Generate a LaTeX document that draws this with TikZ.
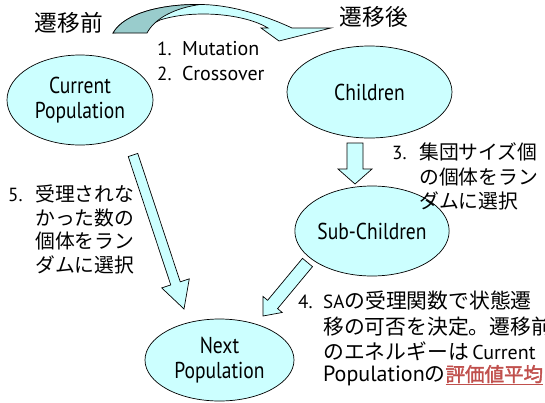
\documentclass[tikz,border=0pt]{standalone}
\usepackage{fontspec}
\setmainfont{Noto Sans CJK JP}
\newfontfamily\latn[FakeStretch=0.85]{PT Sans}
\newfontfamily\latw{PT Sans}
\newfontfamily\jpb[FakeBold=2]{Noto Sans CJK JP}
\usetikzlibrary{shapes.geometric,calc}
\definecolor{cyanfill}{RGB}{204,255,255}
\definecolor{tealdark}{RGB}{153,204,204}
\definecolor{hl}{RGB}{192,80,77}
% block arrow: start, tip, half shaft width, half head width, head length
\newcommand\blockarrow[5]{%
  \coordinate (bxS) at (#1);
  \coordinate (bxT) at (#2);
  \coordinate (bxN) at ($(bxT)!#5!(bxS)$);
  \draw[arrowbody] ($(bxS)!#3!90:(bxT)$) -- ($(bxN)!#3!-90:(bxS)$) -- ($(bxN)!#4!-90:(bxS)$) -- (bxT) -- ($(bxN)!#4!90:(bxS)$) -- ($(bxN)!#3!90:(bxS)$) -- ($(bxS)!#3!-90:(bxT)$) -- cycle;}
\begin{document}
\begin{tikzpicture}[x=1pt,y=-1pt,
  pop/.style={ellipse,draw=black,line width=0.7pt,fill=cyanfill,inner sep=0pt,align=center,
    font=\latn\fontsize{23}{25}\selectfont},
  arrowbody/.style={draw=black,line width=0.7pt,fill=cyanfill,line join=miter},
  head/.style={anchor=base,inner sep=0pt,font=\fontsize{22.7}{24}\selectfont},
  numlbl/.style={anchor=base west,inner sep=0pt,font=\latw\fontsize{19}{21}\selectfont},
  latlbl/.style={anchor=base west,inner sep=0pt,font=\latw\fontsize{20}{22}\selectfont},
  jtext/.style={anchor=base west,inner sep=0pt,font=\fontsize{19.8}{22}\selectfont},
  jtextb/.style={anchor=base west,inner sep=0pt,font=\fontsize{20.8}{22}\selectfont}]
\useasboundingbox (0,0) rectangle (545,402);

% curved transition arrow
\filldraw[arrowbody] (113,33) .. controls (125,12) and (165,4) .. (200,4.5)
  .. controls (228,4.5) and (262,14) .. (292,28) -- (331,28) -- (279,41) -- (261,28) -- (268,28)
  .. controls (245,14) and (195,9) .. (160,20) -- (140,30) -- cycle;
\filldraw[draw=black,line width=0.7pt,fill=tealdark] (113,33) .. controls (125,12) and (165,4) .. (200,4.5)
  .. controls (175,8) and (155,18) .. (147,33) -- cycle;

% block arrows
\coordinate (aS) at (355,143); \coordinate (aT) at (355,184);
\coordinate (bS) at (133,155); \coordinate (bT) at (184,309);
\coordinate (cS) at (307.5,262.5); \coordinate (cT) at (263,316);
\blockarrow{aS}{aT}{8pt}{17pt}{15pt}
\blockarrow{bS}{bT}{5pt}{14.5pt}{27pt}
\blockarrow{cS}{cT}{6.5pt}{12.5pt}{15pt}

% populations
\node[pop,minimum width=146pt,minimum height=90pt] (cur) at (80,100) {Current\\Population};
\node[pop,minimum width=165pt,minimum height=92pt] (chi) at (369.5,92) {Children};
\node[pop,minimum width=150pt,minimum height=90pt] (sub) at (372,231) {Sub-Children};
\node[pop,minimum width=149pt,minimum height=82pt] (nxt) at (219.5,360) {Next\\Population};

% headings
\node[head] (before) at (69,31) {遷移前};
\node[head] (after) at (374,25.5) {遷移後};

% steps 1, 2
\node[numlbl] (n1) at (157,55) {1.};
\node[latlbl] (m1) at (182,55) {Mutation};
\node[numlbl] (n2) at (157,80.5) {2.};
\node[latlbl] (m2) at (182,80.5) {Crossover};

% step 3
\node[numlbl] (n3) at (392,159.6) {3.};
\node[jtext] (t3a) at (419,159.6) {集団サイズ個};
\node[jtext] (t3b) at (419,184.6) {の個体をラン};
\node[jtext] (t3c) at (419,208.6) {ダムに選択};

% step 5
\node[numlbl] (n5) at (8,201.4) {5.};
\node[jtext] (t5a) at (35,201.4) {受理されな};
\node[jtext] (t5b) at (35,225.4) {かった数の};
\node[jtext] (t5c) at (35,248.4) {個体をラン};
\node[jtext] (t5d) at (35,272.4) {ダムに選択};

% step 4
\node[numlbl] (n4) at (298,308) {4.};
\node[jtextb] (t4a) at (323,308) {{\latw\fontsize{19}{21}\selectfont SA}の受理関数で状態遷};
\node[jtextb] (t4b) at (323,334.5) {移の可否を決定。遷移前};
\node[jtextb] (t4c) at (323,359) {のエネルギーは\,{\latw\fontsize{20}{22}\selectfont Current}};
\node[jtextb] (t4d) at (323,381.5) {{\latw\fontsize{22}{24}\selectfont Population}の{\color{hl}\jpb\fontsize{19.5}{21}\selectfont\underline{評価値平均}}};
\end{tikzpicture}
\end{document}
